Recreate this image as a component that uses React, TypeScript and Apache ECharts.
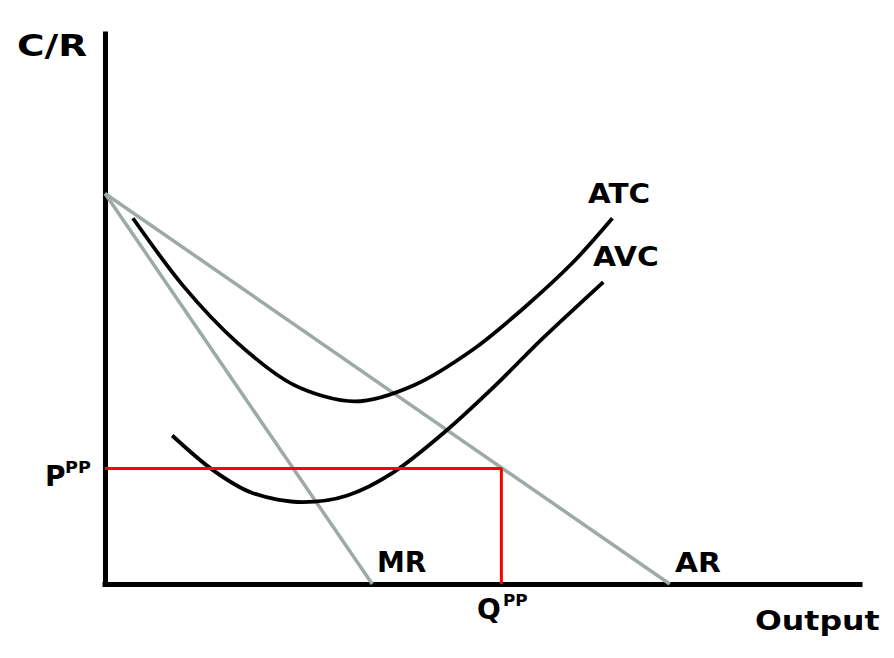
import React, { useEffect, useRef } from "react";
import * as echarts from "echarts";

const atcPoints: [number, number][] = [
  [3.7, 66.5], [10.3, 54.3], [17.5, 43.9], [25.0, 36.2], [33.1, 33.2],
  [41.0, 36.2], [48.7, 42.6], [55.4, 50.1], [62.0, 58.5], [67.2, 66.5],
];
const avcPoints: [number, number][] = [
  [8.9, 27.0], [14.3, 20.7], [19.6, 16.5], [26.2, 14.9], [32.1, 16.1],
  [38.2, 20.3], [44.8, 27.4], [51.4, 35.7], [58.0, 44.7], [66.0, 54.9],
];
const arPoints: [number, number][] = [[0, 71.0], [74.8, 0]];
const mrPoints: [number, number][] = [[0, 71.0], [35.4, 0]];
const pricePP = 21.0;
const quantityPP = 52.5;
const profitBox: [number, number][] = [[0, pricePP], [quantityPP, pricePP], [quantityPP, 0]];

const FONT = "'DejaVu Sans', Verdana, sans-serif";
const GRAY = "#9fa9a8";

export default function App() {
  const ref = useRef<HTMLDivElement>(null);
  useEffect(() => {
    if (!ref.current) return;
    const chart = echarts.init(ref.current, undefined, { renderer: "svg" });
    const txt = (text: string, x: number, y: number, size: number, sx = 1) => ({
      type: "text",
      x,
      y,
      scaleX: sx,
      style: {
        text,
        fontFamily: FONT,
        fontWeight: "bold",
        fontSize: size,
        fill: "#000",
        textAlign: "left",
        textVerticalAlign: "middle",
      },
    });
    chart.setOption({
      animation: false,
      backgroundColor: "#fff",
      grid: { left: 105, right: 34, top: 34, bottom: 74 },
      xAxis: {
        type: "value",
        min: 0,
        max: 100,
        axisLine: { show: true, onZero: false, lineStyle: { color: "#000", width: 5, cap: "square" } },
        axisTick: { show: false },
        axisLabel: { show: false },
        splitLine: { show: false },
      },
      yAxis: {
        type: "value",
        min: 0,
        max: 100,
        axisLine: { show: true, onZero: false, lineStyle: { color: "#000", width: 5, cap: "square" } },
        axisTick: { show: false },
        axisLabel: { show: false },
        splitLine: { show: false },
      },
      series: [
        {
          name: "AR", type: "line", data: arPoints, showSymbol: false,
          lineStyle: { color: GRAY, width: 3.5 }, z: 2,
        },
        {
          name: "MR", type: "line", data: mrPoints, showSymbol: false,
          lineStyle: { color: GRAY, width: 3.5 }, z: 2,
        },
        {
          name: "ATC", type: "line", data: atcPoints, showSymbol: false, smooth: 0.3,
          lineStyle: { color: "#000", width: 3.8 }, z: 3,
        },
        {
          name: "AVC", type: "line", data: avcPoints, showSymbol: false, smooth: 0.3,
          lineStyle: { color: "#000", width: 3.8 }, z: 3,
        },
        {
          name: "PP", type: "line", data: profitBox, showSymbol: false,
          lineStyle: { color: "#ff0000", width: 3 }, z: 4,
        },
      ],
      graphic: [
        txt("C/R", 17, 45, 30, 1.25),
        txt("Output", 755, 621, 27, 1.17),
        txt("ATC", 588, 194, 27, 1.09),
        txt("AVC", 593, 257, 27, 1.1),
        txt("MR", 377, 562, 28, 1.0),
        txt("AR", 675, 563, 27, 1.1),
        txt("P", 45, 476, 28),
        txt("PP", 65, 467, 16, 1.1),
        txt("Q", 477, 609, 28),
        txt("PP", 503, 601, 16, 1.05),
      ],
    });
    return () => chart.dispose();
  }, []);
  return (
    <div
      ref={ref}
      style={{ position: "fixed", left: 0, top: 0, width: 894, height: 658 }}
    />
  );
}
